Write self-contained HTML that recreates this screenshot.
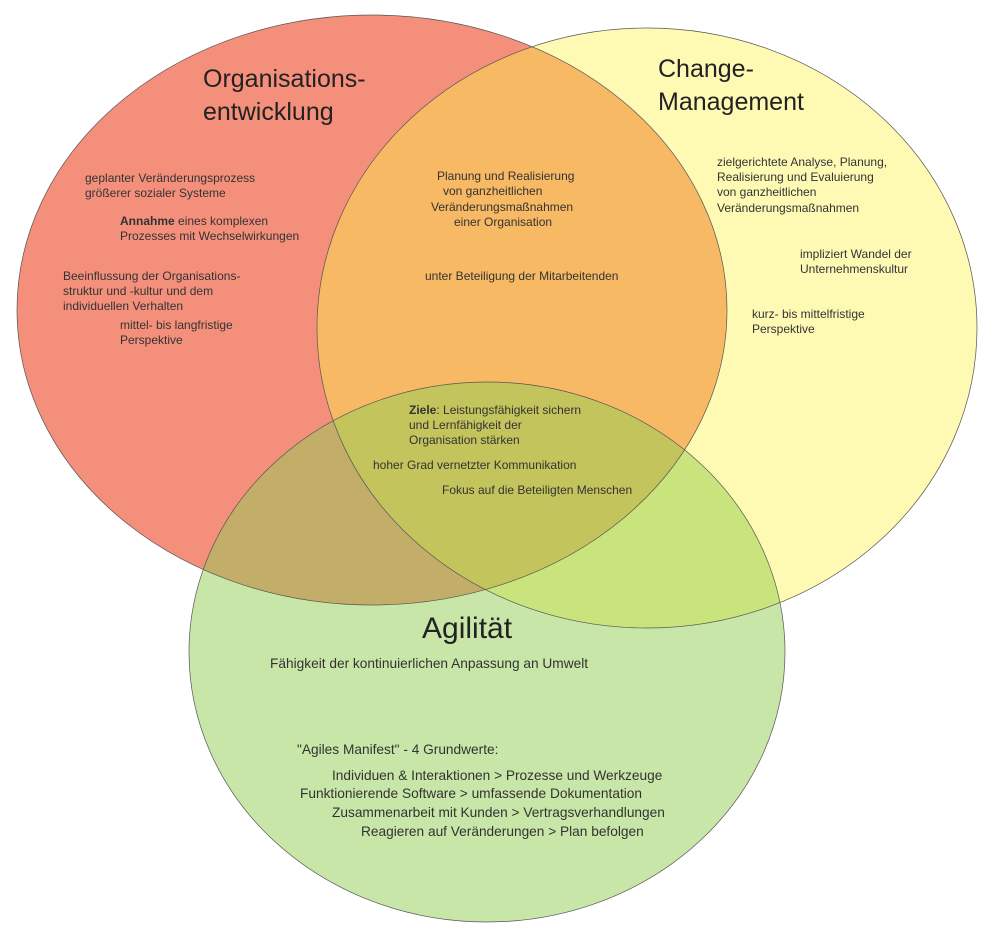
<!DOCTYPE html>
<html><head><meta charset="utf-8"><style>
html,body{margin:0;padding:0;background:#fff;}
svg{display:block;font-family:"Liberation Sans","DejaVu Sans",sans-serif;}
.s{font-size:12px;fill:#333;}
.m{font-size:13.7px;fill:#333;}
.t{font-size:25px;fill:#222;}
</style></head><body>
<svg width="995" height="947" viewBox="0 0 995 947" xmlns="http://www.w3.org/2000/svg">
<defs>
<clipPath id="cR"><ellipse cx="372" cy="310" rx="355" ry="295"/></clipPath>
<clipPath id="cY"><ellipse cx="647" cy="328" rx="330" ry="300"/></clipPath>
<clipPath id="cG"><ellipse cx="487" cy="652" rx="298" ry="270"/></clipPath>
</defs>
<ellipse cx="372" cy="310" rx="355" ry="295" fill="#f48f7b"/>
<ellipse cx="647" cy="328" rx="330" ry="300" fill="#fefab4"/>
<ellipse cx="487" cy="652" rx="298" ry="270" fill="#c8e6a8"/>
<g clip-path="url(#cR)"><ellipse cx="647" cy="328" rx="330" ry="300" fill="#f7b964"/>
<ellipse cx="487" cy="652" rx="298" ry="270" fill="#c2ae68"/></g>
<g clip-path="url(#cY)"><ellipse cx="487" cy="652" rx="298" ry="270" fill="#c9e47c"/></g>
<g clip-path="url(#cR)"><g clip-path="url(#cY)"><ellipse cx="487" cy="652" rx="298" ry="270" fill="#c3c45c"/></g></g>
<g fill="none" stroke="#555" stroke-width="0.7">
<ellipse cx="372" cy="310" rx="355" ry="295"/>
<ellipse cx="647" cy="328" rx="330" ry="300"/>
<ellipse cx="487" cy="652" rx="298" ry="270"/>
</g>
<text class="t" x="203" y="87">Organisations-</text>
<text class="t" x="203" y="120">entwicklung</text>
<text class="t" x="658" y="77">Change-</text>
<text class="t" x="658" y="110">Management</text>
<text x="422" y="638" style="font-size:30px;fill:#222">Agilität</text>
<g class="s">
<text x="85" y="182">geplanter Veränderungsprozess</text>
<text x="85" y="197">größerer sozialer Systeme</text>
<text x="120" y="225"><tspan font-weight="bold">Annahme</tspan> eines komplexen</text>
<text x="120" y="240">Prozesses mit Wechselwirkungen</text>
<text x="63" y="280">Beeinflussung der Organisations-</text>
<text x="63" y="295">struktur und -kultur und dem</text>
<text x="63" y="310">individuellen Verhalten</text>
<text x="120" y="329">mittel- bis langfristige</text>
<text x="120" y="344">Perspektive</text>
<text x="437" y="180">Planung und Realisierung</text>
<text x="443" y="195">von ganzheitlichen</text>
<text x="431" y="211">Veränderungsmaßnahmen</text>
<text x="454" y="226">einer Organisation</text>
<text x="425" y="280">unter Beteiligung der Mitarbeitenden</text>
<text x="717" y="166">zielgerichtete Analyse, Planung,</text>
<text x="717" y="181">Realisierung und Evaluierung</text>
<text x="717" y="196">von ganzheitlichen</text>
<text x="717" y="212">Veränderungsmaßnahmen</text>
<text x="800" y="258">impliziert Wandel der</text>
<text x="800" y="273">Unternehmenskultur</text>
<text x="752" y="318">kurz- bis mittelfristige</text>
<text x="752" y="333">Perspektive</text>
<text x="409" y="414"><tspan font-weight="bold">Ziele</tspan>: Leistungsfähigkeit sichern</text>
<text x="409" y="429">und Lernfähigkeit der</text>
<text x="409" y="444">Organisation stärken</text>
<text x="373" y="469">hoher Grad vernetzter Kommunikation</text>
<text x="442" y="494">Fokus auf die Beteiligten Menschen</text>
</g>
<g class="m">
<text x="270" y="668">Fähigkeit der kontinuierlichen Anpassung an Umwelt</text>
<text x="297" y="754">"Agiles Manifest" - 4 Grundwerte:</text>
<text x="332" y="780">Individuen &amp; Interaktionen &gt; Prozesse und Werkzeuge</text>
<text x="300" y="798">Funktionierende Software &gt; umfassende Dokumentation</text>
<text x="332" y="817">Zusammenarbeit mit Kunden &gt; Vertragsverhandlungen</text>
<text x="361" y="836">Reagieren auf Veränderungen &gt; Plan befolgen</text>
</g>
</svg>
</body></html>
